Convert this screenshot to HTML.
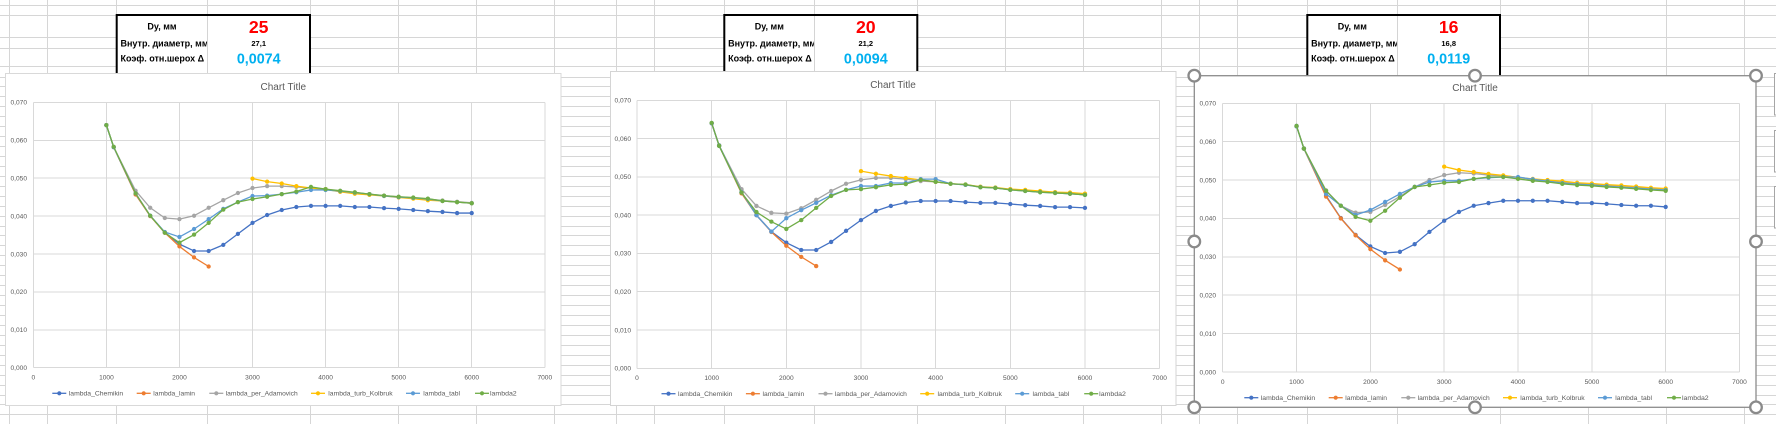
<!DOCTYPE html>
<html><head><meta charset="utf-8">
<style>
html,body{margin:0;padding:0;background:#fff;}
body{width:1776px;height:424px;overflow:hidden;}
svg{display:block;}
text{font-family:"Liberation Sans",sans-serif;}
.tk{font-size:6.6px;fill:#595959;}
.ttl{font-size:10px;fill:#595959;text-anchor:middle;}
.lg text{font-size:6.8px;fill:#595959;}
.lg path{stroke-width:1.3;fill:none;}
.gr{stroke:#d9d9d9;stroke-width:1;fill:none;shape-rendering:crispEdges;}
.s polyline{fill:none;stroke-width:1.3;vector-effect:non-scaling-stroke;stroke-linejoin:round;}
.cB{stroke:#4472C4;marker:url(#mB);}
.cO{stroke:#ED7D31;marker:url(#mO);}
.cG{stroke:#A5A5A5;marker:url(#mG);}
.cY{stroke:#FFC000;marker:url(#mY);}
.cL{stroke:#5B9BD5;marker:url(#mL);}
.cN{stroke:#70AD47;marker:url(#mN);}
.tb{font-weight:bold;}
</style></head>
<body>
<svg width="1776" height="424" viewBox="0 0 1776 424" xmlns="http://www.w3.org/2000/svg">
<defs>
<marker id="mB" markerUnits="userSpaceOnUse" markerWidth="1" markerHeight="1" style="overflow:visible"><circle r="2.15" fill="#4472C4" transform="scale(0.1354 0.2618)"/></marker>
<marker id="mO" markerUnits="userSpaceOnUse" markerWidth="1" markerHeight="1" style="overflow:visible"><circle r="2.15" fill="#ED7D31" transform="scale(0.1354 0.2618)"/></marker>
<marker id="mG" markerUnits="userSpaceOnUse" markerWidth="1" markerHeight="1" style="overflow:visible"><circle r="2.15" fill="#A5A5A5" transform="scale(0.1354 0.2618)"/></marker>
<marker id="mY" markerUnits="userSpaceOnUse" markerWidth="1" markerHeight="1" style="overflow:visible"><circle r="2.15" fill="#FFC000" transform="scale(0.1354 0.2618)"/></marker>
<marker id="mL" markerUnits="userSpaceOnUse" markerWidth="1" markerHeight="1" style="overflow:visible"><circle r="2.15" fill="#5B9BD5" transform="scale(0.1354 0.2618)"/></marker>
<marker id="mN" markerUnits="userSpaceOnUse" markerWidth="1" markerHeight="1" style="overflow:visible"><circle r="2.15" fill="#70AD47" transform="scale(0.1354 0.2618)"/></marker>
<clipPath id="ct1"><rect x="117.7" y="16" width="89.3" height="60"/></clipPath>
<clipPath id="ct2"><rect x="725.3" y="16" width="88.7" height="60"/></clipPath>
<clipPath id="ct3"><rect x="1308.3" y="16" width="88.7" height="60"/></clipPath>
</defs>

<rect x="0" y="0" width="1776" height="424" fill="#fff"/>

<!-- spreadsheet grid -->
<path stroke="#d6d6d6" stroke-width="1" fill="none" shape-rendering="crispEdges" d="M0 5.5H1776M0 15.5H1776M0 37.5H1776M0 48.5H1776M0 66.5H1776M0 77.5H1776M0 86.5H1776M0 96.5H1776M0 106.5H1776M0 116.5H1776M0 126.5H1776M0 136.5H1776M0 146.5H1776M0 156.5H1776M0 166.5H1776M0 176.5H1776M0 186.5H1776M0 196.5H1776M0 206.5H1776M0 216.5H1776M0 226.5H1776M0 235.5H1776M0 245.5H1776M0 255.5H1776M0 265.5H1776M0 275.5H1776M0 285.5H1776M0 295.5H1776M0 305.5H1776M0 315.5H1776M0 325.5H1776M0 335.5H1776M0 345.5H1776M0 355.5H1776M0 365.5H1776M0 375.5H1776M0 385.5H1776M0 395.5H1776M0 404.5H1776M0 414.5H1776
M9.5 0V424M47.5 0V424M116.5 0V424M207.5 0V424M310.5 0V424M398.5 0V424M476.5 0V424M554.5 0V424M616.5 0V424M654.5 0V424M724.5 0V424M814.5 0V424M917.5 0V424M1005.5 0V424M1083.5 0V424M1161.5 0V424M1199.5 0V424M1237.5 0V424M1307.5 0V424M1397.5 0V424M1500.5 0V424M1588.5 0V424M1666.5 0V424M1744.5 0V424"/>

<!-- table 1 -->
<rect x="116.7" y="15" width="193.3" height="75" fill="#fff" stroke="#000" stroke-width="2"/>
<line x1="207.5" y1="16" x2="207.5" y2="90" stroke="#d4d4d4"/>
<text class="tb" x="162" y="29.7" font-size="9" text-anchor="middle" fill="#000">Dy, мм</text>
<text class="tb" x="258.7" y="32.8" font-size="17.7" text-anchor="middle" fill="#FF0000">25</text>
<g clip-path="url(#ct1)">
<text class="tb" x="120.5" y="46.3" font-size="9" fill="#000">Внутр. диаметр, мм</text>
<text class="tb" x="120.5" y="61.4" font-size="9" fill="#000">Коэф. отн.шерох Δ</text>
</g>
<text class="tb" x="258.7" y="45.8" font-size="7.5" text-anchor="middle" fill="#000">27,1</text>
<text class="tb" x="258.7" y="63.3" font-size="14.3" text-anchor="middle" fill="#00B0F0">0,0074</text>

<!-- table 2 -->
<rect x="724.3" y="15" width="193" height="75" fill="#fff" stroke="#000" stroke-width="2"/>
<line x1="814.5" y1="16" x2="814.5" y2="90" stroke="#d4d4d4"/>
<text class="tb" x="769.3" y="29.7" font-size="9" text-anchor="middle" fill="#000">Dy, мм</text>
<text class="tb" x="865.8" y="32.8" font-size="17.7" text-anchor="middle" fill="#FF0000">20</text>
<g clip-path="url(#ct2)">
<text class="tb" x="728.1" y="46.3" font-size="9" fill="#000">Внутр. диаметр, мм</text>
<text class="tb" x="728.1" y="61.4" font-size="9" fill="#000">Коэф. отн.шерох Δ</text>
</g>
<text class="tb" x="865.8" y="45.8" font-size="7.5" text-anchor="middle" fill="#000">21,2</text>
<text class="tb" x="865.8" y="63.3" font-size="14.3" text-anchor="middle" fill="#00B0F0">0,0094</text>

<!-- table 3 -->
<rect x="1307.3" y="15" width="192.7" height="75" fill="#fff" stroke="#000" stroke-width="2"/>
<line x1="1397.5" y1="16" x2="1397.5" y2="90" stroke="#d4d4d4"/>
<text class="tb" x="1352.3" y="29.7" font-size="9" text-anchor="middle" fill="#000">Dy, мм</text>
<text class="tb" x="1448.7" y="32.8" font-size="17.7" text-anchor="middle" fill="#FF0000">16</text>
<g clip-path="url(#ct3)">
<text class="tb" x="1311.1" y="46.3" font-size="9" fill="#000">Внутр. диаметр, мм</text>
<text class="tb" x="1311.1" y="61.4" font-size="9" fill="#000">Коэф. отн.шерох Δ</text>
</g>
<text class="tb" x="1448.7" y="45.8" font-size="7.5" text-anchor="middle" fill="#000">16,8</text>
<text class="tb" x="1448.7" y="63.3" font-size="14.3" text-anchor="middle" fill="#00B0F0">0,0119</text>

<!-- ================= CHART 1 ================= -->
<rect x="5.5" y="73.5" width="555.5" height="332" fill="#fff" stroke="#d9d9d9" stroke-width="1"/>
<text class="ttl" x="283.3" y="90.2">Chart Title</text>
<path class="gr" d="M33.3 102.4H544.8M33.3 140.3H544.8M33.3 178.2H544.8M33.3 216.1H544.8M33.3 254H544.8M33.3 291.9H544.8M33.3 329.8H544.8M33.3 367.7H544.8M33.3 102.4V367.7M106.4 102.4V367.7M179.4 102.4V367.7M252.5 102.4V367.7M325.6 102.4V367.7M398.7 102.4V367.7M471.7 102.4V367.7M544.8 102.4V367.7"/>
<g class="tk" text-anchor="end">
<text x="27" y="104.7">0,070</text><text x="27" y="142.6">0,060</text><text x="27" y="180.5">0,050</text><text x="27" y="218.4">0,040</text><text x="27" y="256.3">0,030</text><text x="27" y="294.2">0,020</text><text x="27" y="332.1">0,010</text><text x="27" y="370">0,000</text>
</g>
<g class="tk" text-anchor="middle">
<text x="33.3" y="379.6">0</text><text x="106.4" y="379.6">1000</text><text x="179.4" y="379.6">2000</text><text x="252.5" y="379.6">3000</text><text x="325.6" y="379.6">4000</text><text x="398.7" y="379.6">5000</text><text x="471.7" y="379.6">6000</text><text x="544.8" y="379.6">7000</text>
</g>
<g class="s" transform="translate(33.3 367.7) scale(7.307 -3.79)">
<polyline class="cB" points="10,64 11,58.2 14,45.8 16,40.1 18,35.7 20,32.6 22,30.8 24,30.8 26,32.4 28,35.3 30,38.2 32,40.3 34,41.6 36,42.4 38,42.7 40,42.7 42,42.7 44,42.4 46,42.4 48,42.1 50,41.9 52,41.6 54,41.3 56,41.1 58,40.8 60,40.8"/>
<polyline class="cO" points="10,64 11,58.2 14,45.7 16,40 18,35.6 20,32 22,29.1 24,26.7"/>
<polyline class="cG" points="10,64 11,58.2 14,46.7 16,42.2 18,39.5 20,39.2 22,40.1 24,42.2 26,44.2 28,46.1 30,47.4 32,47.9 34,47.9 36,47.7 38,47.4 40,47.1 42,46.6 44,46.2 46,45.8 48,45.4 50,45.1 52,44.8 54,44.5 56,44.1 58,43.8 60,43.5"/>
<polyline class="cY" points="30,49.9 32,49.1 34,48.6 36,47.9 38,47.4 40,47.1 42,46.4 44,45.9 46,45.6 48,45.3 50,44.9 52,44.6 54,44.2 56,44 58,43.7 60,43.4"/>
<polyline class="cL" points="10,64 11,58.2 14,46 16,40.1 18,35.8 20,34.5 22,36.6 24,39.2 26,41.9 28,43.7 30,45.3 32,45.4 34,45.8 36,46.3 38,46.9 40,46.9 42,46.6 44,46.2 46,45.8 48,45.3 50,45 52,44.8 54,44.5 56,44 58,43.7 60,43.4"/>
<polyline class="cN" points="10,64 11,58.3 14,46 16,40.1 18,35.6 20,33 22,35.1 24,38.2 26,41.7 28,43.7 30,44.5 32,45.1 34,45.8 36,46.5 38,47.7 40,47.1 42,46.7 44,46.3 46,45.8 48,45.4 50,45.1 52,44.9 54,44.6 56,44 58,43.7 60,43.4"/>
</g>
<g class="lg" transform="translate(52.3 393.3)">
<path d="M0 0h14" stroke="#4472C4"/><circle cx="7" r="2.1" fill="#4472C4"/><text x="16.5" y="2.4" textLength="54.4" lengthAdjust="spacingAndGlyphs">lambda_Chemikin</text>
<path d="M84.4 0h14" stroke="#ED7D31"/><circle cx="91.4" r="2.1" fill="#ED7D31"/><text x="101" y="2.4" textLength="41.7" lengthAdjust="spacingAndGlyphs">lambda_lamin</text>
<path d="M157 0h14" stroke="#A5A5A5"/><circle cx="164" r="2.1" fill="#A5A5A5"/><text x="173.4" y="2.4" textLength="72" lengthAdjust="spacingAndGlyphs">lambda_per_Adamovich</text>
<path d="M258.7 0h14" stroke="#FFC000"/><circle cx="265.7" r="2.1" fill="#FFC000"/><text x="276" y="2.4" textLength="64.4" lengthAdjust="spacingAndGlyphs">lambda_turb_Kolbruk</text>
<path d="M353.7 0h14" stroke="#5B9BD5"/><circle cx="360.7" r="2.1" fill="#5B9BD5"/><text x="371" y="2.4" textLength="36.7" lengthAdjust="spacingAndGlyphs">lambda_tabl</text>
<path d="M422.7 0h14" stroke="#70AD47"/><circle cx="429.7" r="2.1" fill="#70AD47"/><text x="437.7" y="2.4" textLength="26.7" lengthAdjust="spacingAndGlyphs">lambda2</text>
</g>

<!-- ================= CHART 2 ================= -->
<rect x="610.5" y="71.5" width="565.5" height="334" fill="#fff" stroke="#d4d4d4" stroke-width="1"/>
<text class="ttl" x="893" y="88.2">Chart Title</text>
<path class="gr" d="M637 100.3H1159.6M637 138.6H1159.6M637 176.8H1159.6M637 215.1H1159.6M637 253.4H1159.6M637 291.7H1159.6M637 330H1159.6M637 368.3H1159.6M637 100.3V368.3M711.7 100.3V368.3M786.3 100.3V368.3M861 100.3V368.3M935.6 100.3V368.3M1010.3 100.3V368.3M1085 100.3V368.3M1159.6 100.3V368.3"/>
<g class="tk" text-anchor="end">
<text x="631" y="102.6">0,070</text><text x="631" y="140.9">0,060</text><text x="631" y="179.1">0,050</text><text x="631" y="217.4">0,040</text><text x="631" y="255.7">0,030</text><text x="631" y="294">0,020</text><text x="631" y="332.3">0,010</text><text x="631" y="370.6">0,000</text>
</g>
<g class="tk" text-anchor="middle">
<text x="637" y="380">0</text><text x="711.7" y="380">1000</text><text x="786.3" y="380">2000</text><text x="861" y="380">3000</text><text x="935.6" y="380">4000</text><text x="1010.3" y="380">5000</text><text x="1085" y="380">6000</text><text x="1159.6" y="380">7000</text>
</g>
<g class="s" transform="translate(637 368.3) scale(7.466 -3.829)">
<polyline class="cB" points="10,64 11,58.1 14,46 16,40 18,35.7 20,32.8 22,30.9 24,30.9 26,33 28,35.9 30,38.7 32,41.1 34,42.4 36,43.3 38,43.7 40,43.7 42,43.7 44,43.4 46,43.2 48,43.2 50,42.9 52,42.6 54,42.4 56,42.1 58,42.1 60,41.9"/>
<polyline class="cO" points="10,64 11,58.2 14,45.7 16,40 18,35.6 20,32 22,29.1 24,26.7"/>
<polyline class="cG" points="10,64 11,58.2 14,46.8 16,42.4 18,40.6 20,40.4 22,41.8 24,44 26,46.3 28,48.2 30,49.2 32,49.7 34,49.7 36,49.4 38,48.9 40,48.7 42,48.2 44,47.9 46,47.4 48,47.1 50,46.7 52,46.4 54,46.1 56,45.8 58,45.6 60,45.3"/>
<polyline class="cY" points="30,51.5 32,50.8 34,50.2 36,49.7 38,49.2 40,48.7 42,48.2 44,48 46,47.4 48,47.2 50,46.8 52,46.6 54,46.3 56,46 58,45.9 60,45.6"/>
<polyline class="cL" points="10,64 11,58.2 14,46 16,40 18,35.7 20,39.2 22,41.3 24,43.2 26,45.2 28,46.6 30,47.6 32,47.6 34,48.4 36,48.4 38,49.4 40,49.4 42,48.2 44,47.9 46,47.3 48,47.1 50,46.6 52,46.3 54,46 56,45.8 58,45.6 60,45.3"/>
<polyline class="cN" points="10,64.1 11,58.1 14,45.9 16,40.8 18,38.3 20,36.4 22,38.7 24,41.9 26,45 28,46.6 30,46.8 32,47.3 34,47.9 36,48.1 38,49.2 40,48.7 42,48.2 44,48 46,47.3 48,47.1 50,46.6 52,46.3 54,46 56,45.8 58,45.6 60,45.3"/>
</g>
<g class="lg" transform="translate(661.5 393.7)">
<path d="M0 0h14" stroke="#4472C4"/><circle cx="7" r="2.1" fill="#4472C4"/><text x="16.5" y="2.4" textLength="54.4" lengthAdjust="spacingAndGlyphs">lambda_Chemikin</text>
<path d="M84.4 0h14" stroke="#ED7D31"/><circle cx="91.4" r="2.1" fill="#ED7D31"/><text x="101" y="2.4" textLength="41.7" lengthAdjust="spacingAndGlyphs">lambda_lamin</text>
<path d="M157 0h14" stroke="#A5A5A5"/><circle cx="164" r="2.1" fill="#A5A5A5"/><text x="173.4" y="2.4" textLength="72" lengthAdjust="spacingAndGlyphs">lambda_per_Adamovich</text>
<path d="M258.7 0h14" stroke="#FFC000"/><circle cx="265.7" r="2.1" fill="#FFC000"/><text x="276" y="2.4" textLength="64.4" lengthAdjust="spacingAndGlyphs">lambda_turb_Kolbruk</text>
<path d="M353.7 0h14" stroke="#5B9BD5"/><circle cx="360.7" r="2.1" fill="#5B9BD5"/><text x="371" y="2.4" textLength="36.7" lengthAdjust="spacingAndGlyphs">lambda_tabl</text>
<path d="M422.7 0h14" stroke="#70AD47"/><circle cx="429.7" r="2.1" fill="#70AD47"/><text x="437.7" y="2.4" textLength="26.7" lengthAdjust="spacingAndGlyphs">lambda2</text>
</g>

<!-- ================= CHART 3 ================= -->
<rect x="1194.3" y="75.7" width="561.7" height="331.6" fill="#fff" stroke="#8c8c8c" stroke-width="1.3"/>
<text class="ttl" x="1475" y="91.2">Chart Title</text>
<path class="gr" d="M1222.7 103.3H1739.5M1222.7 141.6H1739.5M1222.7 180H1739.5M1222.7 218.4H1739.5M1222.7 256.8H1739.5M1222.7 295.2H1739.5M1222.7 333.6H1739.5M1222.7 372H1739.5M1222.7 103.3V372M1296.5 103.3V372M1370.4 103.3V372M1444.2 103.3V372M1518 103.3V372M1591.9 103.3V372M1665.7 103.3V372M1739.5 103.3V372"/>
<g class="tk" text-anchor="end">
<text x="1216" y="105.6">0,070</text><text x="1216" y="143.9">0,060</text><text x="1216" y="182.3">0,050</text><text x="1216" y="220.7">0,040</text><text x="1216" y="259.1">0,030</text><text x="1216" y="297.5">0,020</text><text x="1216" y="335.9">0,010</text><text x="1216" y="374.3">0,000</text>
</g>
<g class="tk" text-anchor="middle">
<text x="1222.7" y="384">0</text><text x="1296.5" y="384">1000</text><text x="1370.4" y="384">2000</text><text x="1444.2" y="384">3000</text><text x="1518" y="384">4000</text><text x="1591.9" y="384">5000</text><text x="1665.7" y="384">6000</text><text x="1739.5" y="384">7000</text>
</g>
<g class="s" transform="translate(1222.7 372) scale(7.383 -3.839)">
<polyline class="cB" points="10,64.1 11,58.2 14,45.9 16,40.1 18,35.7 20,32.7 22,31 24,31.3 26,33.3 28,36.5 30,39.4 32,41.7 34,43.3 36,44 38,44.6 40,44.6 42,44.6 44,44.6 46,44.3 48,44 50,44 52,43.8 54,43.5 56,43.3 58,43.3 60,43"/>
<polyline class="cO" points="10,64 11,58.2 14,45.7 16,40 18,35.6 20,32 22,29.1 24,26.7"/>
<polyline class="cG" points="10,64 11,58.2 14,47.3 16,43.3 18,41.5 20,41.7 22,43.5 24,45.7 26,48.2 28,50 30,51.3 32,51.9 34,51.7 36,51.3 38,51.1 40,50.7 42,50.1 44,49.7 46,49.4 48,49.1 50,48.8 52,48.6 54,48.3 56,48.1 58,47.8 60,47.6"/>
<polyline class="cY" points="30,53.5 32,52.6 34,52.1 36,51.6 38,51.2 40,50.7 42,50.3 44,50 46,49.7 48,49.3 50,49.1 52,48.8 54,48.6 56,48.3 58,48 60,47.8"/>
<polyline class="cL" points="10,64 11,58.2 14,46.4 16,43.3 18,40.9 20,42.2 22,44.3 24,46.4 26,48.2 28,49.5 30,49.8 32,49.8 34,50.3 36,50.6 38,50.8 40,50.8 42,50.2 44,49.7 46,49.2 48,48.9 50,48.7 52,48.4 54,48.1 56,47.9 58,47.6 60,47.4"/>
<polyline class="cN" points="10,64.1 11,58.2 14,47.2 16,43.3 18,40.4 20,39.4 22,42 24,45.4 26,48.2 28,48.7 30,49.3 32,49.5 34,50.3 36,50.8 38,50.8 40,50.3 42,49.8 44,49.5 46,49 48,48.7 50,48.5 52,48.2 54,48 56,47.7 58,47.4 60,47.2"/>
</g>
<g class="lg" transform="translate(1244.3 397.7)">
<path d="M0 0h14" stroke="#4472C4"/><circle cx="7" r="2.1" fill="#4472C4"/><text x="16.5" y="2.4" textLength="54.4" lengthAdjust="spacingAndGlyphs">lambda_Chemikin</text>
<path d="M84.4 0h14" stroke="#ED7D31"/><circle cx="91.4" r="2.1" fill="#ED7D31"/><text x="101" y="2.4" textLength="41.7" lengthAdjust="spacingAndGlyphs">lambda_lamin</text>
<path d="M157 0h14" stroke="#A5A5A5"/><circle cx="164" r="2.1" fill="#A5A5A5"/><text x="173.4" y="2.4" textLength="72" lengthAdjust="spacingAndGlyphs">lambda_per_Adamovich</text>
<path d="M258.7 0h14" stroke="#FFC000"/><circle cx="265.7" r="2.1" fill="#FFC000"/><text x="276" y="2.4" textLength="64.4" lengthAdjust="spacingAndGlyphs">lambda_turb_Kolbruk</text>
<path d="M353.7 0h14" stroke="#5B9BD5"/><circle cx="360.7" r="2.1" fill="#5B9BD5"/><text x="371" y="2.4" textLength="36.7" lengthAdjust="spacingAndGlyphs">lambda_tabl</text>
<path d="M422.7 0h14" stroke="#70AD47"/><circle cx="429.7" r="2.1" fill="#70AD47"/><text x="437.7" y="2.4" textLength="26.7" lengthAdjust="spacingAndGlyphs">lambda2</text>
</g>

<!-- selection handles -->
<g fill="#fff" stroke="#8a8a8a" stroke-width="2.3">
<circle cx="1194.3" cy="75.7" r="5.8"/>
<circle cx="1475" cy="75.7" r="5.8"/>
<circle cx="1756" cy="75.7" r="5.8"/>
<circle cx="1194.3" cy="241.5" r="5.8"/>
<circle cx="1756" cy="241.5" r="5.8"/>
<circle cx="1194.3" cy="407.3" r="5.8"/>
<circle cx="1475" cy="407.3" r="5.8"/>
<circle cx="1756" cy="407.3" r="5.8"/>
</g>

<!-- chart side buttons (cut off) -->
<g fill="#fff" stroke="#a6a6a6" stroke-width="1">
<rect x="1774.5" y="73.5" width="20" height="41.5"/>
<rect x="1774.5" y="130.5" width="20" height="41.5"/>
<rect x="1774.5" y="186.5" width="20" height="41.5"/>
</g>
</svg>
</body></html>
